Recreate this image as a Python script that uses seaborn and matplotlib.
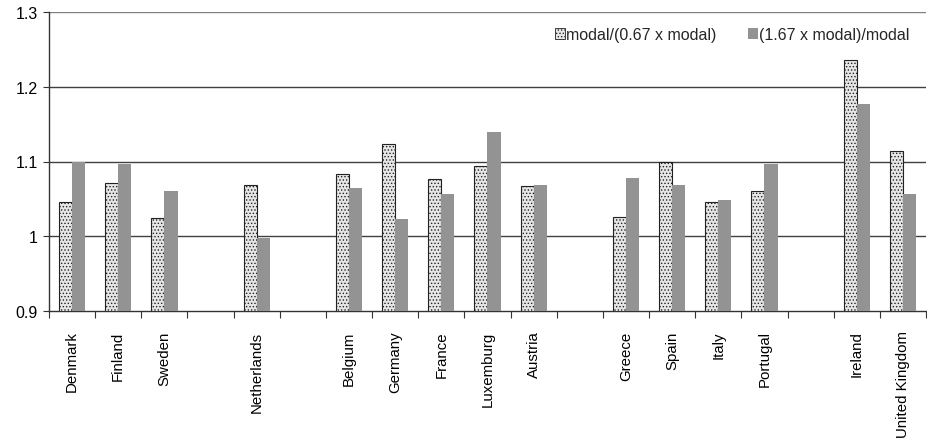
import numpy as np
import pandas as pd
import matplotlib
matplotlib.use("Agg")
import matplotlib.pyplot as plt
import matplotlib.transforms as mtransforms
import seaborn as sns
from matplotlib.patches import Patch

# ---- data ----
slots = ["Denmark", "Finland", "Sweden", "", "Netherlands", "", "Belgium", "Germany",
         "France", "Luxemburg", "Austria", "", "Greece", "Spain", "Italy", "Portugal",
         "", "Ireland", "United Kingdom"]
countries = ["Denmark", "Finland", "Sweden", "Netherlands", "Belgium", "Germany",
             "France", "Luxemburg", "Austria", "Greece", "Spain", "Italy", "Portugal",
             "Ireland", "United Kingdom"]
low_ratio = [1.046, 1.071, 1.024, 1.069, 1.083, 1.123, 1.077, 1.094, 1.067,
             1.026, 1.099, 1.046, 1.061, 1.236, 1.114]
high_ratio = [1.100, 1.097, 1.060, 0.998, 1.065, 1.023, 1.056, 1.139, 1.069,
              1.078, 1.069, 1.049, 1.096, 1.177, 1.056]
series_names = ["modal/(0.67 x modal)", "(1.67 x modal)/modal"]
yticks = [0.9, 1.0, 1.1, 1.2, 1.3]
ytick_labels = ["0.9", "1", "1.1", "1.2", "1.3"]

# unique slot keys (gaps get distinct blank names)
slot_keys = []
g = 0
for s in slots:
    if s == "":
        g += 1
        slot_keys.append("_gap%d" % g)
    else:
        slot_keys.append(s)

df = pd.DataFrame({
    "country": countries * 2,
    "value": low_ratio + high_ratio,
    "series": [series_names[0]] * len(countries) + [series_names[1]] * len(countries),
})

matplotlib.rcParams["hatch.linewidth"] = 0.6
fig = plt.figure(figsize=(9.27, 4.39), dpi=100)
ax = fig.add_axes([49 / 927, 1 - 312 / 439, 877 / 927, (312 - 13) / 439])
sns.set_style("white")

sns.barplot(data=df, x="country", y="value", hue="series", order=slot_keys,
            hue_order=series_names, palette=["#e6e6e6", "#939393"],
            width=0.57, gap=0, ax=ax, legend=False, zorder=3,
            err_kws={"linewidth": 0})

# style bars
for bar in ax.containers[0]:
    bar.set_hatch(".....")
    bar.set_edgecolor("#222222")
    bar.set_linewidth(0.8)
    bar.set_facecolor("#e6e6e6")
for bar in ax.containers[1]:
    bar.set_edgecolor("none")
    bar.set_facecolor("#939393")

ax.set_ylim(0.9, 1.3)
ax.set_xlim(-0.5, len(slots) - 0.5)
ax.set_yticks(yticks)
ax.set_yticklabels(ytick_labels, fontsize=11.5, family="Liberation Sans")
for y in yticks[1:]:
    ax.axhline(y, color="#404040" if y < 1.3 else "#808080", lw=1, zorder=1)

# x ticks at boundaries, labels at centers
ax.set_xticks(np.arange(-0.5, len(slots), 1.0))
ax.set_xticklabels([])
ax.set_xticks(np.arange(len(slots)), minor=True)
ax.set_xticklabels(slots, minor=True, rotation=90, fontsize=10.8, family="Liberation Sans",
                   va="top", ha="center")
shift = mtransforms.ScaledTranslation(4 / 100, 0, fig.dpi_scale_trans)
for lab in ax.get_xticklabels(minor=True):
    lab.set_transform(lab.get_transform() + shift)
ax.tick_params(axis="x", which="major", length=5, width=0.8, color="#333333", direction="out")
ax.tick_params(axis="x", which="minor", length=0, pad=14)
ax.tick_params(axis="y", length=4, width=0.8, color="#333333", direction="out", pad=4)
ax.set_xlabel("")
ax.set_ylabel("")

for side in ["top", "right"]:
    ax.spines[side].set_visible(False)
ax.spines["left"].set_color("#333333")
ax.spines["bottom"].set_color("#333333")
ax.spines["left"].set_linewidth(1)
ax.spines["bottom"].set_linewidth(1)

handles = [Patch(facecolor="#e6e6e6", edgecolor="#222222", hatch=".....", lw=0.6),
           Patch(facecolor="#939393", edgecolor="none")]
leg = ax.legend(handles, series_names, ncol=2, loc="upper right",
                bbox_to_anchor=(0.997, 0.998), frameon=False,
                handlelength=0.62, handleheight=0.62, handletextpad=0.05,
                columnspacing=2.0, prop={"family": "Liberation Sans", "size": 11.5})

fig.savefig("out.png", dpi=100)
